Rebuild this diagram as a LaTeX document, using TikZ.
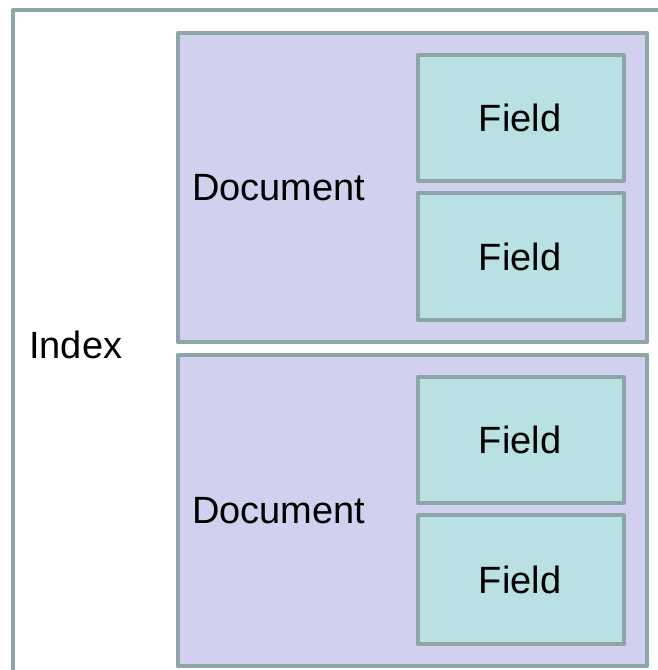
\documentclass[tikz,border=0pt]{standalone}
\usepackage{fontspec}
\setmainfont{Liberation Sans}
\definecolor{edge}{HTML}{8DA5A6}
\definecolor{docfill}{HTML}{D1D1EF}
\definecolor{fieldfill}{HTML}{B9E0E3}
\begin{document}
\begin{tikzpicture}[x=1pt,y=-1pt,
  box/.style={draw=edge,line width=4.5pt,line join=round},
  docbox/.style={box,fill=docfill},
  fieldbox/.style={box,fill=fieldfill},
  lbl/.style={font=\fontsize{38}{42}\selectfont,inner sep=0pt,text=black}]
\useasboundingbox (0,0) rectangle (658,670);
\clip (0,0) rectangle (658,670);
% index container (runs off the right and bottom)
\draw[box,fill=white] (13,10) rectangle (680,690);
\node[lbl,anchor=west] (index) at (29,345) {Index};
% two documents, each holding two fields
\foreach \t/\b/\n in {33/342/1,355/666/2}{
  \draw[docbox] (178,\t) rectangle (647,\b);
  \node[lbl,anchor=west] (doc\n) at (192,{(\t+\b)/2}) {Document};
  \draw[fieldbox] (418,\t+22) rectangle (624,\t+148);
  \node[lbl] (fa\n) at (520,\t+85) {Field};
  \draw[fieldbox] (418,\t+160) rectangle (624,\b-22);
  \node[lbl] (fb\n) at (520,{(\t+160+\b-22)/2}) {Field};
}
\end{tikzpicture}
\end{document}
